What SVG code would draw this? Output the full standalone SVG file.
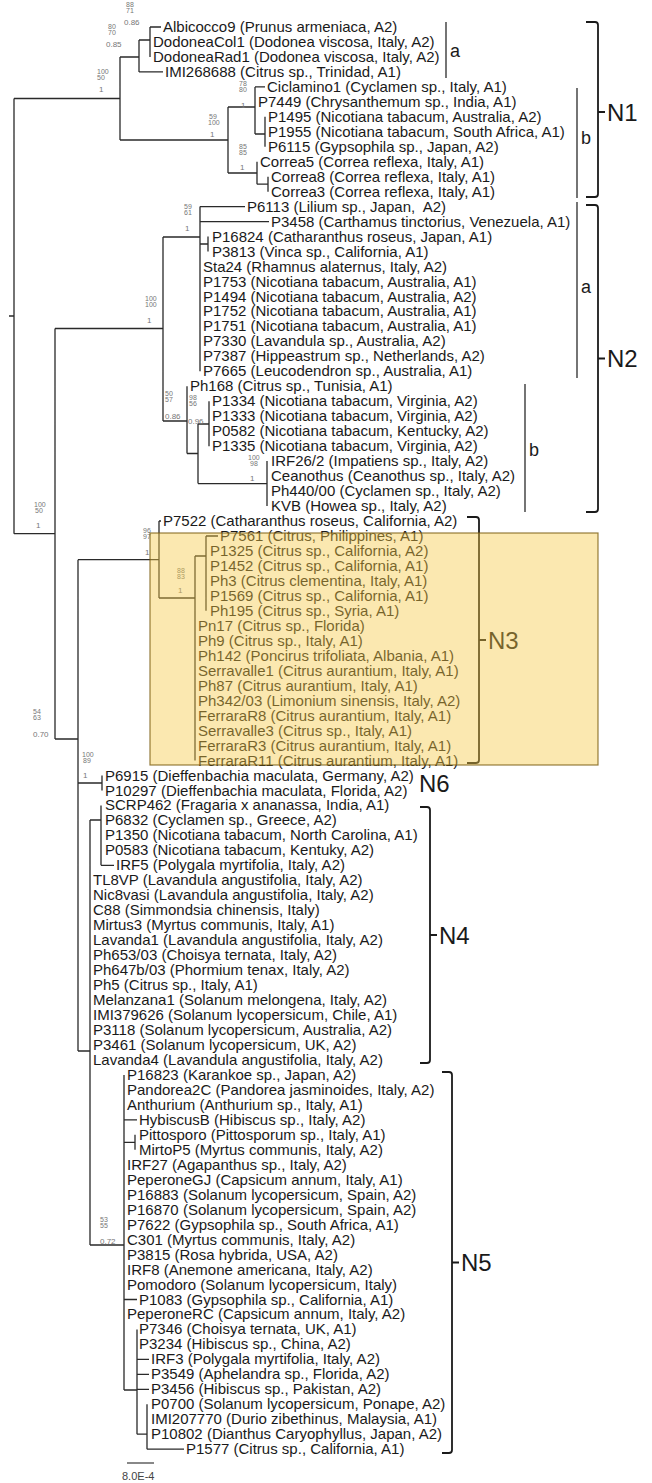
<svg xmlns="http://www.w3.org/2000/svg" width="652" height="1483" viewBox="0 0 652 1483">
<style>
text{font-family:"Liberation Sans",Arial,sans-serif;}
.t{font-size:15px;fill:#1a1a1a;}
.s{font-size:7px;fill:#777;}
.s3{font-size:8px;fill:#777;}
.ln{fill:none;stroke:#2a2a2a;stroke-width:1.3;}
.br{fill:none;stroke:#1a1a1a;stroke-width:1.2;}
.bb{fill:none;stroke:#1a1a1a;stroke-width:1.8;}
.lab{font-size:24px;fill:#1a1a1a;}
.sub{font-size:18px;fill:#1a1a1a;}
</style>
<rect x="0" y="0" width="652" height="1483" fill="#fff"/>
<g id="branches">
<path class="ln" d="M9 316H14 M14 98.5V533.7 M14 98.5H120 M120 57V140 M120 57H139 M139 40V71.9 M139 71.9H163 M139 40H150 M150 27V56.9 M150 27H161 M120 140H228 M228 107V173 M228 107H255 M255 86.9V134 M255 86.9H265 M255 134H265 M265 116.8V146.8 M228 173H257 M257 161.7V184.2 M257 184.2H268 M268 176.7V191.7"/>
<path class="ln" d="M14 533.7H55 M55 328.5V739 M55 328.5H163 M163 237V421 M163 237H200 M200 206.6V371.3 M200 206.6H245 M200 221.6H269 M200 244H208 M208 236.6V251.6 M163 421H187 M187 386.3V453.5 M187 453.5H198 M198 424V483.6 M198 424H209 M209 401.3V446.2 M198 483.6H267 M267 461.1V506"/>
<path class="ln" d="M55 739H78 M78 559.7V1051 M78 559.7H159 M159 521V598 M159 521H161 M159 598H195 M195 556V760.5 M195 556H206 M206 536V610.8 M206 536H218 M78 783H102 M102 775.5V790.5 M78 1051H90 M90 820V1245 M90 820H101 M101 805.4V865.3 M101 865.3H114 M90 1245H124 M124 1074.9V1390 M124 1119.8H137 M124 1142.3H135 M135 1134.8V1149.8 M124 1299.5H137 M124 1390H137 M137 1329.4V1434.2 M137 1359.3H149 M137 1374.3H149 M137 1389.3H149 M137 1434.2H147 M147 1404.2V1449.2 M147 1449.2H184"/>
</g>
<g id="support">
<text class="s" x="126" y="7">88</text><text class="s" x="126" y="12.5">71</text><text class="s3" x="124" y="25">0.86</text>
<text class="s" x="108" y="29">80</text><text class="s" x="108" y="34.5">70</text><text class="s3" x="106" y="47">0.85</text>
<text class="s" x="97" y="74">100</text><text class="s" x="97" y="79.5">50</text><text class="s3" x="99" y="92">1</text>
<text class="s" x="239" y="86">78</text><text class="s" x="239" y="91.5">80</text><text class="s3" x="241" y="108">1</text>
<text class="s" x="209" y="119">59</text><text class="s" x="208" y="124.5">100</text><text class="s3" x="210" y="137">1</text>
<text class="s" x="239" y="149">85</text><text class="s" x="239" y="154.5">85</text><text class="s3" x="240" y="170">1</text>
<text class="s" x="184" y="209">59</text><text class="s" x="184" y="214.5">61</text><text class="s3" x="185" y="231">1</text>
<text class="s" x="145" y="301">100</text><text class="s" x="145" y="306.5">100</text><text class="s3" x="147" y="323">1</text>
<text class="s" x="165" y="396">50</text><text class="s" x="165" y="401.5">57</text><text class="s3" x="165" y="419">0.86</text>
<text class="s" x="189" y="400">98</text><text class="s" x="189" y="405.5">56</text><text class="s3" x="188" y="424">0.96</text>
<text class="s" x="248" y="460">100</text><text class="s" x="250" y="465.5">98</text><text class="s3" x="250" y="481">1</text>
<text class="s" x="34" y="507">100</text><text class="s" x="35" y="512.5">50</text><text class="s3" x="36" y="528">1</text>
<text class="s" x="143" y="533">96</text><text class="s" x="143" y="538.5">97</text><text class="s3" x="145" y="555">1</text>
<text class="s" x="177" y="573">88</text><text class="s" x="177" y="578.5">83</text><text class="s3" x="178" y="593">1</text>
<text class="s" x="33" y="714">54</text><text class="s" x="33" y="719.5">63</text><text class="s3" x="33" y="737">0.70</text>
<text class="s" x="82" y="757">100</text><text class="s" x="83" y="762.5">89</text><text class="s3" x="83" y="778">1</text>
<text class="s" x="100" y="1222">53</text><text class="s" x="100" y="1227.5">55</text><text class="s3" x="100" y="1244">0.72</text>
</g>
<g id="tx01"><text class="t" x="163" y="32">Albicocco9 (Prunus armeniaca, A2)</text></g>
<g id="tx02"><text class="t" x="153" y="47">DodoneaCol1 (Dodonea viscosa, Italy, A2)</text></g>
<g id="tx03"><text class="t" x="153" y="61.9">DodoneaRad1 (Dodonea viscosa, Italy, A2)</text></g>
<g id="tx04"><text class="t" x="165" y="76.9">IMI268688 (Citrus sp., Trinidad, A1)</text></g>
<g id="tx05"><text class="t" x="267" y="91.9">Ciclamino1 (Cyclamen sp., Italy, A1)</text></g>
<g id="tx06"><text class="t" x="258" y="106.9">P7449 (Chrysanthemum sp., India, A1)</text></g>
<g id="tx07"><text class="t" x="268" y="121.8">P1495 (Nicotiana tabacum, Australia, A2)</text></g>
<g id="tx08"><text class="t" x="268" y="136.8">P1955 (Nicotiana tabacum, South Africa, A1)</text></g>
<g id="tx09"><text class="t" x="268" y="151.8">P6115 (Gypsophila sp., Japan, A2)</text></g>
<g id="tx10"><text class="t" x="260" y="166.7">Correa5 (Correa reflexa, Italy, A1)</text></g>
<g id="tx11"><text class="t" x="271" y="181.7">Correa8 (Correa reflexa, Italy, A1)</text></g>
<g id="tx12"><text class="t" x="271" y="196.7">Correa3 (Correa reflexa, Italy, A1)</text></g>
<g id="tx13"><text class="t" x="247" y="211.6" xml:space="preserve">P6113 (Lilium sp., Japan,  A2)</text></g>
<g id="tx14"><text class="t" x="271" y="226.6">P3458 (Carthamus tinctorius, Venezuela, A1)</text></g>
<g id="tx15"><text class="t" x="212" y="241.6">P16824 (Catharanthus roseus, Japan, A1)</text></g>
<g id="tx16"><text class="t" x="212" y="256.6">P3813 (Vinca sp., California, A1)</text></g>
<g id="tx17"><text class="t" x="203" y="271.5">Sta24 (Rhamnus alaternus, Italy, A2)</text></g>
<g id="tx18"><text class="t" x="203" y="286.5">P1753 (Nicotiana tabacum, Australia, A1)</text></g>
<g id="tx19"><text class="t" x="203" y="301.5">P1494 (Nicotiana tabacum, Australia, A2)</text></g>
<g id="tx20"><text class="t" x="203" y="316.4">P1752 (Nicotiana tabacum, Australia, A1)</text></g>
<g id="tx21"><text class="t" x="203" y="331.4">P1751 (Nicotiana tabacum, Australia, A1)</text></g>
<g id="tx22"><text class="t" x="203" y="346.4">P7330 (Lavandula sp., Australia, A2)</text></g>
<g id="tx23"><text class="t" x="203" y="361.3">P7387 (Hippeastrum sp., Netherlands, A2)</text></g>
<g id="tx24"><text class="t" x="203" y="376.3">P7665 (Leucodendron sp., Australia, A1)</text></g>
<g id="tx25"><text class="t" x="190" y="391.3">Ph168 (Citrus sp., Tunisia, A1)</text></g>
<g id="tx26"><text class="t" x="212" y="406.3">P1334 (Nicotiana tabacum, Virginia, A2)</text></g>
<g id="tx27"><text class="t" x="212" y="421.2">P1333 (Nicotiana tabacum, Virginia, A2)</text></g>
<g id="tx28"><text class="t" x="212" y="436.2">P0582 (Nicotiana tabacum, Kentucky, A2)</text></g>
<g id="tx29"><text class="t" x="212" y="451.2">P1335 (Nicotiana tabacum, Virginia, A2)</text></g>
<g id="tx30"><text class="t" x="271" y="466.1">IRF26/2 (Impatiens sp., Italy, A2)</text></g>
<g id="tx31"><text class="t" x="271" y="481.1">Ceanothus (Ceanothus sp., Italy, A2)</text></g>
<g id="tx32"><text class="t" x="271" y="496.1">Ph440/00 (Cyclamen sp., Italy, A2)</text></g>
<g id="tx33"><text class="t" x="271" y="511">KVB (Howea sp., Italy, A2)</text></g>
<g id="tx34"><text class="t" x="163" y="526">P7522 (Catharanthus roseus, California, A2)</text></g>
<g id="tx35"><text class="t" x="220" y="541">P7561 (Citrus, Philippines, A1)</text></g>
<g id="tx36"><text class="t" x="210" y="556">P1325 (Citrus sp., California, A2)</text></g>
<g id="tx37"><text class="t" x="210" y="570.9">P1452 (Citrus sp., California, A1)</text></g>
<g id="tx38"><text class="t" x="210" y="585.9">Ph3 (Citrus clementina, Italy, A1)</text></g>
<g id="tx39"><text class="t" x="210" y="600.9">P1569 (Citrus sp., California, A1)</text></g>
<g id="tx40"><text class="t" x="210" y="615.8">Ph195 (Citrus sp., Syria, A1)</text></g>
<g id="tx41"><text class="t" x="198" y="630.8">Pn17 (Citrus sp., Florida)</text></g>
<g id="tx42"><text class="t" x="198" y="645.8">Ph9 (Citrus sp., Italy, A1)</text></g>
<g id="tx43"><text class="t" x="198" y="660.7">Ph142 (Poncirus trifoliata, Albania, A1)</text></g>
<g id="tx44"><text class="t" x="198" y="675.7">Serravalle1 (Citrus aurantium, Italy, A1)</text></g>
<g id="tx45"><text class="t" x="198" y="690.7">Ph87 (Citrus aurantium, Italy, A1)</text></g>
<g id="tx46"><text class="t" x="198" y="705.7">Ph342/03 (Limonium sinensis, Italy, A2)</text></g>
<g id="tx47"><text class="t" x="198" y="720.6">FerraraR8 (Citrus aurantium, Italy, A1)</text></g>
<g id="tx48"><text class="t" x="198" y="735.6">Serravalle3 (Citrus sp., Italy, A1)</text></g>
<g id="tx49"><text class="t" x="198" y="750.6">FerraraR3 (Citrus aurantium, Italy, A1)</text></g>
<g id="tx50"><text class="t" x="198" y="765.5">FerraraR11 (Citrus aurantium, Italy, A1)</text></g>
<g id="tx51"><text class="t" x="105" y="780.5">P6915 (Dieffenbachia maculata, Germany, A2)</text></g>
<g id="tx52"><text class="t" x="105" y="795.5">P10297 (Dieffenbachia maculata, Florida, A2)</text></g>
<g id="tx53"><text class="t" x="105" y="810.4">SCRP462 (Fragaria x ananassa, India, A1)</text></g>
<g id="tx54"><text class="t" x="105" y="825.4">P6832 (Cyclamen sp., Greece, A2)</text></g>
<g id="tx55"><text class="t" x="105" y="840.4">P1350 (Nicotiana tabacum, North Carolina, A1)</text></g>
<g id="tx56"><text class="t" x="105" y="855.4">P0583 (Nicotiana tabacum, Kentuky, A2)</text></g>
<g id="tx57"><text class="t" x="116" y="870.3">IRF5 (Polygala myrtifolia, Italy, A2)</text></g>
<g id="tx58"><text class="t" x="93" y="885.3">TL8VP (Lavandula angustifolia, Italy, A2)</text></g>
<g id="tx59"><text class="t" x="93" y="900.3">Nic8vasi (Lavandula angustifolia, Italy, A2)</text></g>
<g id="tx60"><text class="t" x="93" y="915.2">C88 (Simmondsia chinensis, Italy)</text></g>
<g id="tx61"><text class="t" x="93" y="930.2">Mirtus3 (Myrtus communis, Italy, A1)</text></g>
<g id="tx62"><text class="t" x="93" y="945.2">Lavanda1 (Lavandula angustifolia, Italy, A2)</text></g>
<g id="tx63"><text class="t" x="93" y="960.1">Ph653/03 (Choisya ternata, Italy, A2)</text></g>
<g id="tx64"><text class="t" x="93" y="975.1">Ph647b/03 (Phormium tenax, Italy, A2)</text></g>
<g id="tx65"><text class="t" x="93" y="990.1">Ph5 (Citrus sp., Italy, A1)</text></g>
<g id="tx66"><text class="t" x="93" y="1005.1">Melanzana1 (Solanum melongena, Italy, A2)</text></g>
<g id="tx67"><text class="t" x="93" y="1020">IMI379626 (Solanum lycopersicum, Chile, A1)</text></g>
<g id="tx68"><text class="t" x="93" y="1035">P3118 (Solanum lycopersicum, Australia, A2)</text></g>
<g id="tx69"><text class="t" x="93" y="1050">P3461 (Solanum lycopersicum, UK, A2)</text></g>
<g id="tx70"><text class="t" x="93" y="1064.9">Lavanda4 (Lavandula angustifolia, Italy, A2)</text></g>
<g id="tx71"><text class="t" x="127" y="1079.9">P16823 (Karankoe sp., Japan, A2)</text></g>
<g id="tx72"><text class="t" x="127" y="1094.9">Pandorea2C (Pandorea jasminoides, Italy, A2)</text></g>
<g id="tx73"><text class="t" x="127" y="1109.8">Anthurium (Anthurium sp., Italy, A1)</text></g>
<g id="tx74"><text class="t" x="139" y="1124.8">HybiscusB (Hibiscus sp., Italy, A2)</text></g>
<g id="tx75"><text class="t" x="139" y="1139.8">Pittosporo (Pittosporum sp., Italy, A1)</text></g>
<g id="tx76"><text class="t" x="139" y="1154.8">MirtoP5 (Myrtus communis, Italy, A2)</text></g>
<g id="tx77"><text class="t" x="127" y="1169.7">IRF27 (Agapanthus sp., Italy, A2)</text></g>
<g id="tx78"><text class="t" x="127" y="1184.7">PeperoneGJ (Capsicum annum, Italy, A1)</text></g>
<g id="tx79"><text class="t" x="127" y="1199.7">P16883 (Solanum lycopersicum, Spain, A2)</text></g>
<g id="tx80"><text class="t" x="127" y="1214.6">P16870 (Solanum lycopersicum, Spain, A2)</text></g>
<g id="tx81"><text class="t" x="127" y="1229.6">P7622 (Gypsophila sp., South Africa, A1)</text></g>
<g id="tx82"><text class="t" x="127" y="1244.6">C301 (Myrtus communis, Italy, A2)</text></g>
<g id="tx83"><text class="t" x="127" y="1259.5">P3815 (Rosa hybrida, USA, A2)</text></g>
<g id="tx84"><text class="t" x="127" y="1274.5">IRF8 (Anemone americana, Italy, A2)</text></g>
<g id="tx85"><text class="t" x="127" y="1289.5">Pomodoro (Solanum lycopersicum, Italy)</text></g>
<g id="tx86"><text class="t" x="139" y="1304.5">P1083 (Gypsophila sp., California, A1)</text></g>
<g id="tx87"><text class="t" x="127" y="1319.4">PeperoneRC (Capsicum annum, Italy, A2)</text></g>
<g id="tx88"><text class="t" x="139" y="1334.4">P7346 (Choisya ternata, UK, A1)</text></g>
<g id="tx89"><text class="t" x="139" y="1349.4">P3234 (Hibiscus sp., China, A2)</text></g>
<g id="tx90"><text class="t" x="151" y="1364.3">IRF3 (Polygala myrtifolia, Italy, A2)</text></g>
<g id="tx91"><text class="t" x="151" y="1379.3">P3549 (Aphelandra sp., Florida, A2)</text></g>
<g id="tx92"><text class="t" x="151" y="1394.3">P3456 (Hibiscus sp., Pakistan, A2)</text></g>
<g id="tx93"><text class="t" x="151" y="1409.2">P0700 (Solanum lycopersicum, Ponape, A2)</text></g>
<g id="tx94"><text class="t" x="151" y="1424.2">IMI207770 (Durio zibethinus, Malaysia, A1)</text></g>
<g id="tx95"><text class="t" x="151" y="1439.2">P10802 (Dianthus Caryophyllus, Japan, A2)</text></g>
<g id="tx96"><text class="t" x="186" y="1454.2">P1577 (Citrus sp., California, A1)</text></g>
<g id="brackets">
<path class="br" d="M446 22V78 M577 88V198 M577 202V378 M525 384V512"/>
<path class="bb" d="M586 22H595Q598 22 598 25V194Q598 197 595 197H586 M598 112H605"/>
<path class="bb" d="M586 205H595Q598 205 598 208V509Q598 512 595 512H586 M598 358.5H605"/>
<path class="bb" d="M467 517H476Q479 517 479 520V760Q479 763 476 763H467 M479 640H486"/>
<path class="bb" d="M420 807H427Q430 807 430 810V1060Q430 1063 427 1063H420 M430 935H437"/>
<path class="bb" d="M442 1072H449Q452 1072 452 1075V1450Q452 1453 449 1453H442 M452 1262.5H459"/>
</g>
<g id="clade-labels">
<text class="sub" x="450" y="57">a</text>
<text class="sub" x="581" y="144">b</text>
<text class="sub" x="581" y="293">a</text>
<text class="sub" x="529" y="456">b</text>
<text class="lab" x="607" y="120.5">N1</text>
<text class="lab" x="607" y="367">N2</text>
<text class="lab" x="488" y="649">N3</text>
<text class="lab" x="439" y="944">N4</text>
<text class="lab" x="461" y="1271">N5</text>
<text class="lab" x="419" y="792">N6</text>
</g>
<g id="N3-highlight">
<rect x="150" y="533" width="448" height="232" fill="#F5C842" fill-opacity="0.42" stroke="#7a5c10" stroke-opacity="0.8" stroke-width="1.2"/>
</g>
<g id="scale">
<path d="M127 1463H154" stroke="#888" stroke-width="2"/>
<text x="122" y="1480" font-size="11" fill="#444">8.0E-4</text>
</g>
</svg>
